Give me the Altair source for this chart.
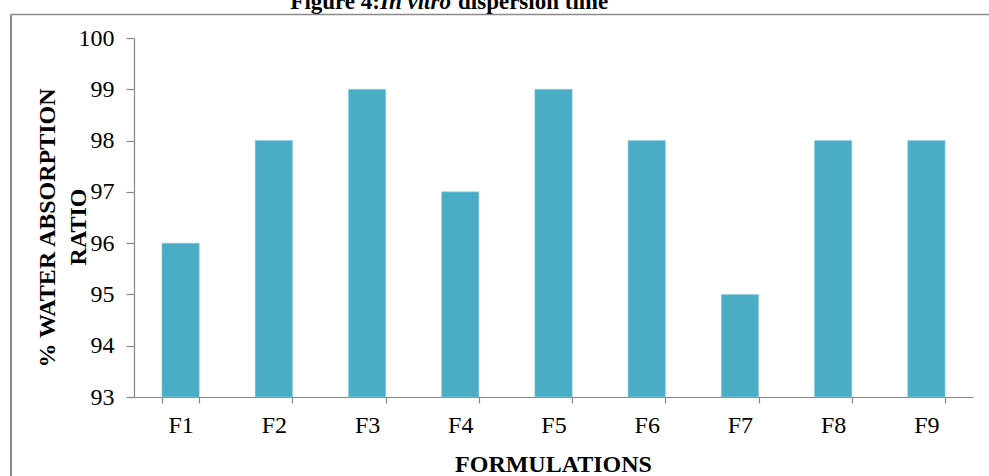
import altair as alt
import pandas as pd

formulations = ["F1", "F2", "F3", "F4", "F5", "F6", "F7", "F8", "F9"]
ratio = [96, 98, 99, 97, 99, 98, 95, 98, 98]
y_ticks = [93, 94, 95, 96, 97, 98, 99, 100]

df = pd.DataFrame({"Formulation": formulations, "Ratio": ratio})

FONT = "Liberation Serif"
AXIS_GRAY = "#868686"
W, H = 839, 359

bars = alt.Chart(df).mark_bar(color="#4BACC6", stroke="#8fd0e2", strokeWidth=0.6).encode(
    x=alt.X("Formulation:N", sort=formulations,
            scale=alt.Scale(paddingInner=0.6, paddingOuter=0.3),
            axis=alt.Axis(title=None, labelAngle=0, tickBand="extent", tickSize=6,
                          labelPadding=10, labelFontSize=24, labelFont=FONT,
                          labelColor="black")),
    y=alt.Y("Ratio:Q", scale=alt.Scale(domain=[93, 100], zero=False, nice=False),
            axis=alt.Axis(title=None, values=y_ticks, tickSize=8, labelPadding=12,
                          labelFontSize=24, labelFont=FONT, labelColor="black",
                          grid=False)),
    y2=alt.datum(93),
)

one = alt.Data(values=[{"k": 1}])

def txt(text, x, y, size=23, align="center", style="normal", angle=0, baseline="alphabetic"):
    kw = dict(text=text, font=FONT, fontSize=size, fontWeight="bold", align=align,
              baseline=baseline, color="black", fontStyle=style)
    if angle:
        kw["angle"] = angle
    return alt.Chart(one).mark_text(**kw).encode(x=alt.value(x), y=alt.value(y))

title1 = txt("Figure 4:", 246, -29, align="right")
title2 = txt("In vitro", 246, -29, align="left", style="italic")
title3 = txt("dispersion time", 324, -29, align="left")
xtitle = txt("FORMULATIONS", W / 2, 434, size=24)
ytitle1 = txt("% WATER ABSORPTION", -86, 190, size=24, angle=270, baseline="middle")
ytitle2 = txt("RATIO", -55, 189, size=24, angle=270, baseline="middle")

frame_top = alt.Chart(one).mark_rule(color="#8a8a8a", strokeWidth=1.5).encode(
    x=alt.value(-123), x2=alt.value(900), y=alt.value(-23.5))
frame_left = alt.Chart(one).mark_rule(color="#8a8a8a", strokeWidth=2).encode(
    x=alt.value(-123), y=alt.value(-23.5), y2=alt.value(500))

chart = alt.layer(
    frame_top, frame_left, bars, title1, title2, title3, xtitle, ytitle1, ytitle2
).properties(
    width=W, height=H,
    autosize=alt.AutoSizeParams(type="none"),
    padding={"left": 134, "top": 38, "right": 16, "bottom": 79},
    background="white",
).configure(font=FONT).configure_view(stroke=None).configure_axis(
    labelFont=FONT, labelColor="black", domainColor=AXIS_GRAY, tickColor=AXIS_GRAY,
    domainWidth=1.2, tickWidth=1.2,
)

chart.save("out.html", embed_options={"renderer": "svg", "actions": False})
